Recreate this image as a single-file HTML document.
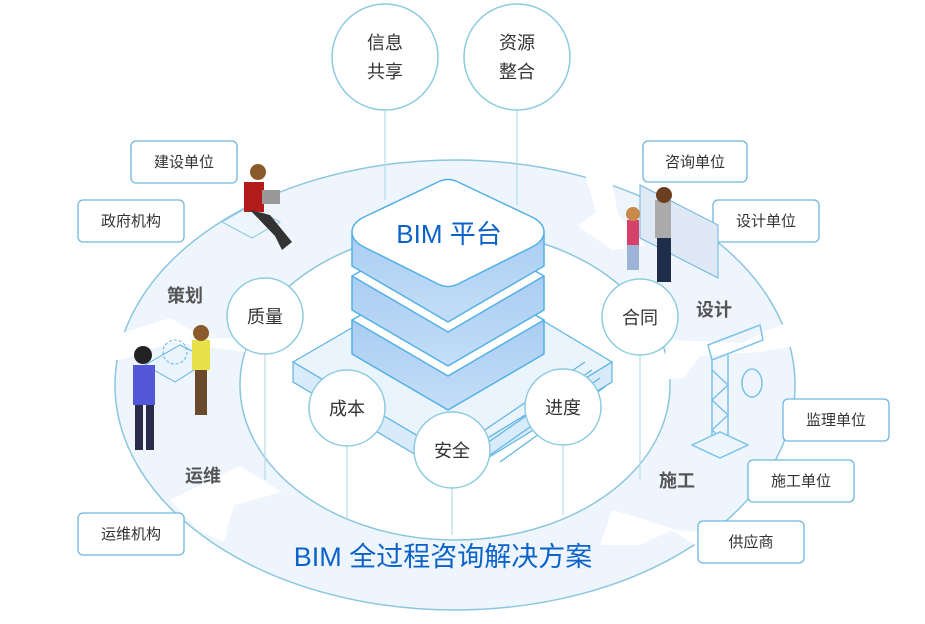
<!DOCTYPE html>
<html><head><meta charset="utf-8"><style>
html,body{margin:0;padding:0;background:#fff;width:925px;height:624px;overflow:hidden}
svg text{font-family:"Liberation Sans","Noto Sans CJK SC",sans-serif}
</style></head><body>
<svg width="925" height="624" viewBox="0 0 925 624" xmlns="http://www.w3.org/2000/svg">
<defs>
<linearGradient id="lay" x1="0" y1="0" x2="0" y2="1"><stop offset="0" stop-color="#a9cdf2"/><stop offset="1" stop-color="#c3def8"/></linearGradient>
</defs>
<!-- ring -->
<path fill-rule="evenodd" fill="#eef5fc" stroke="#8cc6de" stroke-width="1.5"
d="M115,385 A340,225 0 1,0 795,385 A340,225 0 1,0 115,385 Z M240,385 A215,155 0 1,1 670,385 A215,155 0 1,1 240,385 Z"/>
<!-- gaps -->
<polygon fill="#fff" points="578,150 596,212 578,226 612,250 645,246 618,214 606,150"/>
<polygon fill="#fff" points="668,340 742,343 768,330 800,318 800,345 760,352 700,356 684,378 660,380"/>
<polygon fill="#fff" points="612,510 640,518 676,530 700,532 700,548 672,530 640,545 600,545"/>
<polygon fill="#fff" points="282,492 234,505 224,542 198,530 170,500 240,466"/>
<polygon fill="#fff" points="100,333 122,333 170,318 205,338 245,338 245,352 172,342 120,360 100,360"/>
<!-- vertical lines -->
<g stroke="#b8dcea" stroke-width="1.2">
<line x1="385" y1="110" x2="385" y2="200"/><line x1="517" y1="110" x2="517" y2="205"/>
<line x1="265" y1="354" x2="265" y2="480"/><line x1="640" y1="355" x2="640" y2="480"/>
<line x1="347" y1="446" x2="347" y2="520"/><line x1="452" y1="488" x2="452" y2="535"/><line x1="563" y1="445" x2="563" y2="515"/>
</g>
<!-- base platform -->
<g fill="#eaf4fd" stroke="#5db3e3" stroke-width="1.2">
<polygon points="293,362 455,268 612,362 455,458"/>
<polygon points="293,362 455,458 455,478 293,382" fill="#d8ebfa"/>
<polygon points="612,362 455,458 455,478 612,382" fill="#d8ebfa"/>
<g fill="none"><path d="M470,440 L585,362 M480,448 L592,370 M490,455 L600,378 M500,462 L606,386"/></g>
</g>
<!-- stack -->
<g stroke="#53b0e6" stroke-width="1.5">
<path d="M352,320 L352,354 L448,410 L544,354 L544,320 Z" fill="url(#lay)" stroke-linejoin="round"/>
<path d="M352,320 L448,266 L544,320 L448,376 Z" fill="#fff" stroke-linejoin="round"/>
<path d="M352,276 L352,310 L448,366 L544,310 L544,276 Z" fill="url(#lay)" stroke-linejoin="round"/>
<path d="M352,276 L448,222 L544,276 L448,332 Z" fill="#fff" stroke-linejoin="round"/>
<path d="M352,232 L352,266 L448,322 L544,266 L544,232 Z" fill="url(#lay)" stroke-linejoin="round"/>
<path d="M352,232 Q352,224 362,218 L438,182 Q448,177 458,182 L534,218 Q544,224 544,232 Q544,240 534,246 L458,284 Q448,289 438,284 L362,246 Q352,240 352,232 Z" fill="#fff"/>
</g>
<text x="449" y="243" font-size="26" fill="#0b63c9" text-anchor="middle">BIM 平台</text>
<!-- circles -->
<g fill="#fff" stroke="#8ccbe0" stroke-width="1.5">
<circle cx="385" cy="57" r="53"/><circle cx="517" cy="57" r="53"/>
<circle cx="265" cy="316" r="38"/><circle cx="640" cy="317" r="38"/>
<circle cx="347" cy="408" r="38"/><circle cx="452" cy="450" r="38"/><circle cx="563" cy="407" r="38"/>
</g>
<g font-size="18" fill="#333" text-anchor="middle">
<text x="385" y="49">信息</text><text x="385" y="78">共享</text>
<text x="517" y="49">资源</text><text x="517" y="78">整合</text>
<text x="265" y="323">质量</text><text x="640" y="324">合同</text>
<text x="347" y="415">成本</text><text x="452" y="457">安全</text><text x="563" y="414">进度</text>
</g>
<!-- segment labels -->
<g font-size="18" fill="#555" font-weight="bold" text-anchor="middle">
<text x="185" y="302">策划</text><text x="714" y="316">设计</text>
<text x="677" y="487">施工</text><text x="203" y="482">运维</text>
</g>
<text x="443" y="566" font-size="27" fill="#0b63c9" text-anchor="middle">BIM 全过程咨询解决方案</text>
<!-- boxes -->
<g fill="#fff" stroke="#6fb6df" stroke-width="1.3">
<rect x="131" y="141" width="106" height="42" rx="5"/><rect x="78" y="200" width="106" height="42" rx="5"/>
<rect x="643" y="141" width="104" height="41" rx="5"/><rect x="713" y="200" width="106" height="42" rx="5"/>
<rect x="783" y="399" width="106" height="42" rx="5"/><rect x="748" y="460" width="106" height="42" rx="5"/>
<rect x="698" y="521" width="106" height="42" rx="5"/><rect x="78" y="513" width="106" height="42" rx="5"/>
</g>
<g font-size="15" fill="#333" text-anchor="middle">
<text x="184" y="167">建设单位</text><text x="131" y="226">政府机构</text>
<text x="695" y="167">咨询单位</text><text x="766" y="226">设计单位</text>
<text x="836" y="425">监理单位</text><text x="801" y="486">施工单位</text>
<text x="751" y="547">供应商</text><text x="131" y="539">运维机构</text>
</g>
<!-- people / props (simplified) -->
<g>
<polygon points="222,222 250,206 280,222 252,238" fill="#eef6fd" stroke="#8cc6e6"/>
<rect x="244" y="182" width="20" height="30" fill="#b31a1a"/><circle cx="258" cy="172" r="8" fill="#8a5a2b"/>
<path d="M250,210 L275,236 L282,250 L292,242 L270,215 Z" fill="#333"/>
<rect x="262" y="190" width="18" height="14" fill="#999"/>
<polygon points="145,365 180,345 210,360 175,382" fill="#eaf4fd" stroke="#5db3e3"/>
<circle cx="175" cy="352" r="12" fill="none" stroke="#5db3e3" stroke-dasharray="3 2"/>
<rect x="133" y="365" width="22" height="40" fill="#5458d8"/><circle cx="143" cy="355" r="9" fill="#222"/>
<rect x="135" y="405" width="8" height="45" fill="#2a2a4a"/><rect x="146" y="405" width="8" height="45" fill="#2a2a4a"/>
<rect x="192" y="340" width="18" height="30" fill="#e8e24a"/><circle cx="201" cy="333" r="8" fill="#8a5a2b"/>
<rect x="195" y="370" width="12" height="45" fill="#6b4a2b"/>
<polygon points="640,185 718,225 718,278 640,238" fill="#dfe8f5" stroke="#6fb6df"/>
<rect x="655" y="200" width="16" height="38" fill="#aaa"/><circle cx="664" cy="195" r="8" fill="#6b4020"/>
<rect x="657" y="238" width="14" height="44" fill="#1e2e4a"/>
<rect x="627" y="220" width="12" height="25" fill="#d6416a"/><circle cx="633" cy="214" r="7" fill="#c9894a"/>
<rect x="627" y="245" width="12" height="25" fill="#9db3d8"/>
<g stroke="#7cc2ea" fill="none" stroke-width="1.5">
<path d="M708,345 L760,325 L763,340 L712,360 Z"/><line x1="712" y1="360" x2="712" y2="445"/><line x1="728" y1="355" x2="728" y2="445"/>
<path d="M712,370 L728,385 L712,400 L728,415 L712,430 L728,445"/>
<polygon points="692,445 720,432 748,445 720,458" fill="#eef6fd"/>
<ellipse cx="752" cy="383" rx="10" ry="14"/>
</g>
</g>
</svg>
</body></html>
